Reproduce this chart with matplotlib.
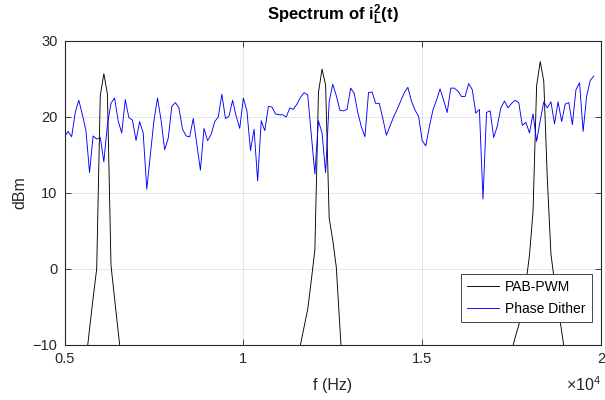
import numpy as np
import matplotlib
matplotlib.use("Agg")
import matplotlib.pyplot as plt

plt.rcParams['font.family'] = ['Liberation Sans', 'DejaVu Sans']
plt.rcParams['mathtext.fontset'] = 'custom'
plt.rcParams['mathtext.rm'] = 'Liberation Sans'
plt.rcParams['mathtext.it'] = 'Liberation Sans'
plt.rcParams['mathtext.bf'] = 'Liberation Sans:bold'

# Phase Dither spectrum (100 Hz spacing, 5000..19800 Hz)
dither_f0 = 5000
dither_step = 100
dither_db = [
    17.4, 18.1, 17.4, 20.6, 22.2, 20.3, 18.2, 12.7, 17.5, 17.1,
    17.3, 14.1, 19.0, 21.8, 22.5, 19.5, 17.9, 22.3, 19.9, 19.6,
    16.9, 19.4, 17.9, 10.5, 15.0, 19.5, 22.5, 19.6, 15.7, 17.2,
    21.4, 21.9, 21.2, 18.4, 17.5, 17.4, 19.8, 16.4, 13.0, 18.5,
    16.9, 17.7, 19.4, 20.0, 23.0, 19.8, 20.1, 22.2, 20.1, 18.5,
    22.5, 20.8, 15.6, 18.4, 11.6, 19.5, 18.2, 21.4, 21.3, 20.4,
    20.3, 20.3, 20.0, 21.2, 21.0, 21.7, 22.6, 23.2, 22.9, 17.7,
    12.5, 19.5, 17.9, 12.7, 22.0, 24.3, 22.8, 20.9, 20.8, 21.0,
    23.8, 23.1, 20.6, 18.7, 17.4, 23.2, 23.3, 21.8, 21.8, 19.8,
    17.6, 18.8, 20.0, 21.0, 22.1, 23.2, 23.9, 22.1, 20.9, 20.1,
    16.9, 16.2, 18.7, 20.9, 22.2, 23.7, 22.2, 20.6, 23.8, 23.8,
    23.4, 22.7, 22.7, 24.4, 23.6, 20.5, 21.0, 9.2, 20.6, 20.8,
    17.3, 18.8, 21.2, 22.1, 21.2, 21.8, 22.2, 21.9, 18.9, 19.3,
    17.9, 20.4, 16.8, 19.5, 22.0, 21.2, 22.0, 19.1, 22.0, 19.4,
    21.7, 21.9, 19.0, 23.6, 24.5, 18.1, 22.8, 24.8, 25.4,
]
dither_freq = dither_f0 + dither_step * np.arange(len(dither_db))

# PAB-PWM spectrum (around the three harmonics)
pab_freq = [5500, 5600, 5700, 5800, 5900, 6000, 6100, 6200, 6300, 6400, 6500, 6600,
            11500, 11600, 11700, 11800, 11900, 12000, 12100, 12200, 12300, 12400, 12500, 12600, 12700, 12800,
            17400, 17500, 17600, 17700, 17800, 17900, 18000, 18100, 18200, 18300, 18400, 18500, 18600, 18700, 18800, 18900, 19000]
pab_db = [-16.0, -12.1, -7.9, -3.8, 0.0, 22.8, 25.7, 23.0, 0.5, -3.9, -8.2, -12.4,
          -12.3, -9.9, -7.6, -5.3, -1.5, 2.5, 23.2, 26.3, 24.2, 6.7, 3.8, 0.2, -7.7, -15.6,
          -13.0, -10.8, -9.0, -7.4, -5.2, -1.9, 1.8, 7.6, 24.1, 27.3, 24.7, 11.8, 2.0, -1.7, -5.0, -8.2, -11.4]

xticks = [5000, 10000, 15000, 20000]
xtick_labels = ['0.5', '1', '1.5', '2']
yticks = [-10, 0, 10, 20, 30]

W, H = 605, 400
fig = plt.figure(figsize=(W / 100, H / 100), dpi=100)
L, R, T, B = 64.5, 601, 41, 345
ax = fig.add_axes([L / W, (H - B) / H, (R - L) / W, (B - T) / H])

axc = '#262626'
ax.plot(pab_freq, pab_db, color='black', lw=0.65, label='PAB-PWM')
ax.plot(dither_freq, dither_db, color='#0000ff', lw=0.65, label='Phase Dither')

ax.set_xlim(5000, 20000)
ax.set_ylim(-10, 30)
ax.set_xticks(xticks)
ax.set_xticklabels(xtick_labels)
ax.set_yticks(yticks)
ax.grid(True, color=axc, alpha=0.13, lw=0.6)
ax.set_axisbelow(True)
for s in ax.spines.values():
    s.set_color(axc)
    s.set_linewidth(0.8)
ax.tick_params(direction='in', length=4, width=0.6, colors=axc, labelsize=10.5,
               top=True, right=True, pad=5)

ax.set_xlabel('f (Hz)', fontsize=11.5, color=axc, labelpad=9)
ax.set_ylabel('dBm', fontsize=11.5, color=axc, labelpad=4)

fig.text((L + R) / 2 / W, 1 - 15 / H, r'Spectrum of $\mathbf{i_L^2(t)}$',
         ha='center', va='center', fontsize=12, fontweight='bold', color='black')
fig.text(R / W, 1 - 385 / H, r'$\times10^{4}$', ha='right', va='center',
         fontsize=11.5, color=axc)

leg = ax.legend(loc='lower right', bbox_to_anchor=((592 - L) / (R - L), (B - 322) / (B - T)),
                fontsize=10, frameon=True, fancybox=False, framealpha=1,
                edgecolor=axc, handlelength=2.3, borderpad=0.45, labelspacing=0.55,
                handletextpad=0.45, borderaxespad=0)
leg.get_frame().set_linewidth(0.6)

fig.savefig('out.png', dpi=100)
